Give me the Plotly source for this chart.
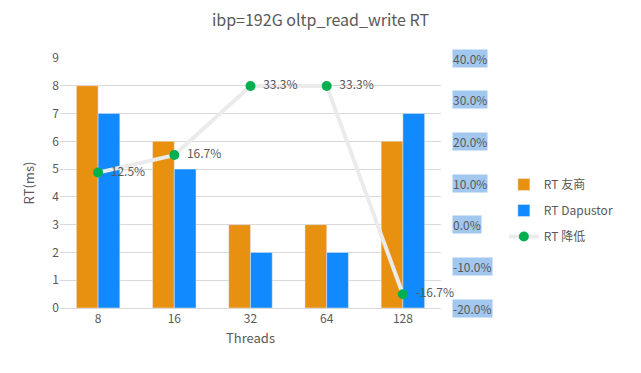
import plotly.graph_objects as go

threads = ["8", "16", "32", "64", "128"]
rt_youshang = [8, 6, 3, 3, 6]
rt_dapustor = [7, 5, 2, 2, 7]
rt_reduce = [0.125, 0.167, 0.333, 0.333, -0.167]
rt_reduce_labels = ["12.5%", "16.7%", "33.3%", "33.3%", "-16.7%"]
y2_ticks = [0.4, 0.3, 0.2, 0.1, 0.0, -0.1, -0.2]
y2_labels = ["40.0%", "30.0%", "20.0%", "10.0%", "0.0%", "-10.0%", "-20.0%"]

FONT = "Noto Sans CJK SC"
GRAY = "#595959"

fig = go.Figure()
fig.add_trace(go.Bar(x=threads, y=rt_youshang, name="RT 友商", marker_color="#E8900F",
                     legendgroup="a"))
fig.add_trace(go.Bar(x=threads, y=rt_dapustor, name="RT Dapustor", marker_color="#1189FF",
                     legendgroup="b"))
fig.add_trace(go.Scatter(
    x=threads, y=rt_reduce, name="RT 降低", yaxis="y2", mode="lines+markers+text",
    legendgroup="c",
    line=dict(color="#EBEBEB", width=4),
    marker=dict(color="#00B050", size=10),
    text=["\u00a0\u00a0" + t for t in rt_reduce_labels], textposition="middle right",
    textfont=dict(color=GRAY, size=12, family=FONT),
    cliponaxis=False,
))

for v, lab in zip(y2_ticks, y2_labels):
    fig.add_annotation(x=1.028, xref="paper", y=v, yref="y2", text=lab,
                       showarrow=False, xanchor="left", yanchor="middle",
                       bgcolor="#A3C8F0", borderpad=0,
                       font=dict(color=GRAY, size=12, family=FONT))

fig.update_layout(
    width=641, height=373,
    margin=dict(l=60, r=200, t=58, b=65),
    paper_bgcolor="white", plot_bgcolor="white",
    font=dict(family=FONT, color=GRAY, size=12),
    title=dict(text="ibp=192G oltp_read_write RT", x=0.5, xanchor="center",
               y=0.945, yanchor="middle", font=dict(size=16, color=GRAY)),
    barmode="group", bargap=0.43, bargroupgap=0,
    xaxis=dict(title=dict(text="Threads", standoff=8, font=dict(size=13)),
               showgrid=False, showline=True, linecolor="#D9D9D9", ticks=""),
    yaxis=dict(title=dict(text="RT(ms)", standoff=14, font=dict(size=13)),
               range=[0, 9], dtick=1, showgrid=True, gridcolor="#D9D9D9",
               zeroline=False, ticks=""),
    yaxis2=dict(overlaying="y", side="right", range=[-0.2, 0.4],
                tickvals=y2_ticks, showticklabels=False, showgrid=False,
                zeroline=False),
    legend=dict(x=1.165, xanchor="left", y=0.39, yanchor="middle",
                font=dict(size=12, color=GRAY), tracegroupgap=7,
                itemwidth=30),
    showlegend=True,
)

fig.write_html("out.html")
